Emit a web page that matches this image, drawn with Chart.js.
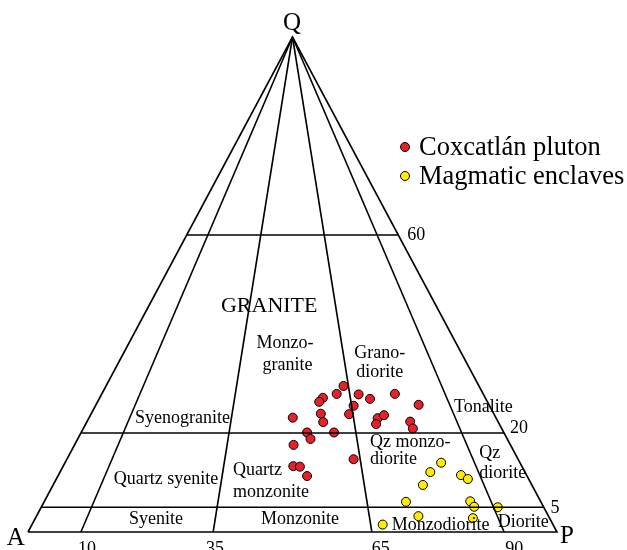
<!DOCTYPE html>
<html>
<head>
<meta charset="utf-8">
<script src="https://cdn.jsdelivr.net/npm/chart.js@4.4.1/dist/chart.umd.min.js"></script>
<style>
html,body{margin:0;padding:0;background:#fff;}
#wrap{width:627px;height:550px;position:relative;}
</style>
</head>
<body>
<div id="wrap"><canvas id="c" width="627" height="550"></canvas></div>
<script>
// QAP ternary data (percent Q and percent P; A = 100 - Q - P)
const seriesNames = ['Coxcatlán pluton', 'Magmatic enclaves'];
const plutonQ = [29.5,27.9,27.1,26.3,27.8,26.9,27.9,25.5,25.7,23.1,23.9,23.8,23.0,23.6,22.2,21.8,22.3,20.9,20.1,20.1,18.8,17.6,14.7,13.3,13.2,11.3];
const plutonP = [44.9,44.4,42.2,41.9,48.6,51.2,55.4,48.8,61.0,38.5,43.4,48.8,54.6,55.5,44.7,54.9,61.1,62.3,42.7,47.8,44.0,41.4,54.2,43.5,44.8,47.1];
const enclaveQ = [14.0,12.1,9.5,11.5,10.7,6.1,6.2,5.1,5.0,3.2,2.8,1.5];
const enclaveP = [71.1,70.0,69.9,76.1,77.8,68.4,80.5,81.8,86.3,72.2,82.7,66.3];
// field boundaries
const qLevels = [5, 20, 60];                 // Q %
const pRatioLevels = [10, 35, 65, 90];       // 100*P/(A+P)
const qTickLabels = ['5', '20', '60'];
const ratioTickLabels = ['10', '35', '65', '90'];

// ternary -> cartesian (A=(0,0), P=(100,0), Q=(50,100))
function tern(q, p){ return {x: p + q/2, y: q}; }
const plutonPts = plutonQ.map((q,i)=>tern(q, plutonP[i]));
const enclavePts = enclaveQ.map((q,i)=>tern(q, enclaveP[i]));

const lineStyle = {showLine:true, borderColor:'#000', borderWidth:1.6, pointRadius:0, pointHoverRadius:0, fill:false, tension:0};
const datasets = [];
datasets.push(Object.assign({label:'frame', data:[tern(0,0), tern(0,100), tern(100,0), tern(0,0)]}, lineStyle));
qLevels.forEach(q=>{
  datasets.push(Object.assign({label:'Q'+q, data:[tern(q,0), tern(q,100-q)]}, lineStyle));
});
pRatioLevels.forEach(r=>{
  datasets.push(Object.assign({label:'R'+r, data:[tern(0,r), tern(100,0)]}, lineStyle));
});
datasets.push({label:seriesNames[0], data:plutonPts, showLine:false, pointRadius:4.5, pointBorderWidth:1, pointBackgroundColor:'#e8202a', pointBorderColor:'#000'});
datasets.push({label:seriesNames[1], data:enclavePts, showLine:false, pointRadius:4.5, pointBorderWidth:1, pointBackgroundColor:'#ffec00', pointBorderColor:'#000'});

const serif = '"Liberation Serif","Times New Roman",serif';
// text annotations [text, x, y, size, align]
const labels = [
  ['Q', 49.9, 101.4, 25, 'center'],
  ['A', -2.3, -2.6, 25, 'center'],
  ['P', 101.9, -2.2, 25, 'center'],
  [ratioTickLabels[0], 11.15, -4.5, 18, 'center'],
  [ratioTickLabels[1], 35.35, -4.5, 18, 'center'],
  [ratioTickLabels[2], 66.7, -4.5, 18, 'center'],
  [ratioTickLabels[3], 91.9, -4.5, 18, 'center'],
  [qTickLabels[2], 73.4, 59.0, 18, 'center'],
  [qTickLabels[1], 92.8, 20.0, 18, 'center'],
  [qTickLabels[0], 99.6, 3.84, 18, 'center'],
  ['GRANITE', 45.6, 44.4, 22, 'center'],
  ['Monzo-', 48.6, 37.2, 18, 'center'],
  ['granite', 49.05, 32.7, 18, 'center'],
  ['Grano-', 66.5, 35.2, 18, 'center'],
  ['diorite', 66.5, 31.3, 18, 'center'],
  ['Syenogranite', 29.2, 22.0, 18, 'center'],
  ['Tonalite', 86.1, 24.2, 18, 'center'],
  ['Qz monzo-', 64.65, 17.2, 18, 'left'],
  ['diorite', 64.65, 13.8, 18, 'left'],
  ['Qz', 85.3, 14.9, 18, 'left'],
  ['diorite', 85.3, 10.9, 18, 'left'],
  ['Quartz syenite', 26.1, 9.7, 18, 'center'],
  ['Quartz', 38.75, 11.5, 18, 'left'],
  ['monzonite', 38.75, 7.1, 18, 'left'],
  ['Syenite', 24.2, 1.6, 18, 'center'],
  ['Monzonite', 51.4, 1.6, 18, 'center'],
  ['Monzodiorite', 78.0, 0.4, 18, 'center'],
  ['Diorite', 93.6, 1.1, 18, 'center']
];

const annot = {
  id:'annot',
  afterDatasetsDraw(chart){
    const ctx = chart.ctx, xs = chart.scales.x, ys = chart.scales.y;
    ctx.save();
    ctx.fillStyle = '#000';
    ctx.textBaseline = 'alphabetic';
    labels.forEach(l=>{
      ctx.font = l[3] + 'px ' + serif;
      ctx.textAlign = l[4];
      ctx.fillText(l[0], xs.getPixelForValue(l[1]), ys.getPixelForValue(l[2]));
    });
    // legend
    const colors = ['#e8202a', '#ffec00'];
    const legY = [147, 176];
    seriesNames.forEach((n,i)=>{
      ctx.beginPath();
      ctx.arc(405, legY[i], 4.5, 0, Math.PI*2);
      ctx.fillStyle = colors[i];
      ctx.fill();
      ctx.lineWidth = 1;
      ctx.strokeStyle = '#000';
      ctx.stroke();
      ctx.fillStyle = '#000';
      ctx.font = '26.5px ' + serif;
      ctx.textAlign = 'left';
      ctx.fillText(n, 419, legY[i] + 8);
    });
    ctx.restore();
  }
};

new Chart(document.getElementById('c'), {
  type:'scatter',
  data:{datasets},
  options:{
    responsive:false,
    animation:false,
    clip:false,
    layout:{padding:{left:28, right:70, top:37, bottom:18}},
    scales:{
      x:{type:'linear', min:0, max:100, display:false},
      y:{type:'linear', min:0, max:100, display:false}
    },
    plugins:{legend:{display:false}, tooltip:{enabled:false}}
  },
  plugins:[annot]
});
</script>
</body>
</html>
